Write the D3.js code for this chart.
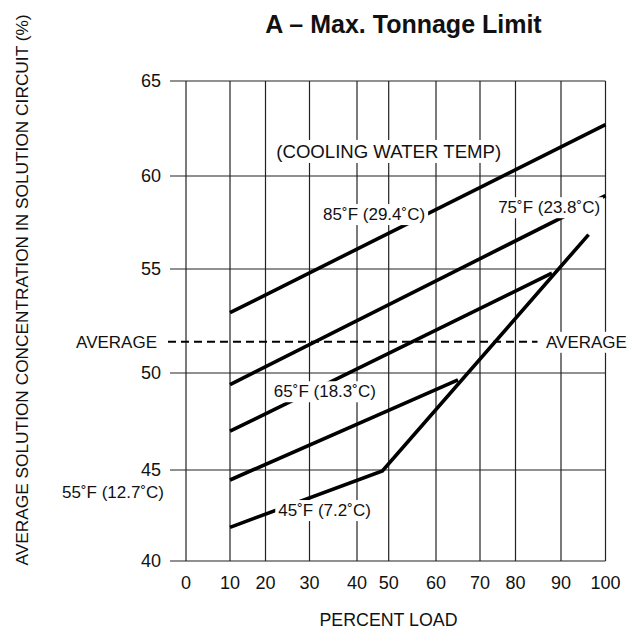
<!DOCTYPE html>
<html>
<head>
<meta charset="utf-8">
<script src="https://cdn.jsdelivr.net/npm/d3@7"></script>
<style>
  body { margin: 0; background: #fff; }
  svg { font-family: 'Liberation Sans', Arial, sans-serif; fill: #111; }
  .grid line { stroke: #222; stroke-width: 1.2; }
  .curve { fill: none; stroke: #000; stroke-width: 3.6; stroke-linejoin: miter; }
  .avg { stroke: #000; stroke-width: 2; stroke-dasharray: 8 5; }
  .tick-label { font-size: 18px; }
  .note { font-size: 17px; }
  .big-note { font-size: 18.6px; }
</style>
</head>
<body>
<svg id="chart"></svg>
<script>
const WIDTH = 629;
const HEIGHT = 632;

// percent load ticks (the printed axis is unevenly spaced)
const loadTicks = [0, 10, 20, 30, 40, 50, 60, 70, 80, 90, 100];
const concTicks = [40, 45, 50, 55, 60, 65];

// cooling water temp curves: [percent load, concentration %]
const water85 = [[10, 52.9], [100, 62.7]];
const water75 = [[10, 49.4], [100, 58.95]];
const water65 = [[10, 47.0], [88, 54.8]];
const water55 = [[10, 44.45], [65, 49.65]];
const water45 = [[10, 41.85], [48, 44.95], [96.2, 56.85]];
const averageConc = 51.5;

const curveLabels = ['85˚F (29.4˚C)', '75˚F (23.8˚C)', '65˚F (18.3˚C)', '55˚F (12.7˚C)', '45˚F (7.2˚C)'];

// pixel stops of the printed grid
const xStops = [186, 230, 265.5, 309.5, 357, 388.7, 436, 480, 515.5, 561, 605.5];
const yStops = [561, 470, 373, 269, 176, 81];

const xScale = d3.scaleLinear().domain(loadTicks).range(xStops);
const yScale = d3.scaleLinear().domain(concTicks).range(yStops);

const svg = d3.select('#chart')
  .attr('width', WIDTH)
  .attr('height', HEIGHT);

// grid
const grid = svg.append('g').attr('class', 'grid');
grid.selectAll('.v')
  .data(loadTicks)
  .enter()
  .append('line')
  .attr('x1', d => xScale(d))
  .attr('x2', d => xScale(d))
  .attr('y1', yScale(65))
  .attr('y2', yScale(40));
grid.selectAll('.h')
  .data(concTicks)
  .enter()
  .append('line')
  .attr('x1', xScale(0) - 16)
  .attr('x2', xScale(100))
  .attr('y1', d => yScale(d))
  .attr('y2', d => yScale(d));

// tick labels
svg.selectAll('.xl')
  .data(loadTicks)
  .enter()
  .append('text')
  .attr('class', 'tick-label')
  .attr('text-anchor', 'middle')
  .attr('x', d => xScale(d))
  .attr('y', yScale(40) + 28)
  .text(d => d);
svg.selectAll('.yl')
  .data(concTicks)
  .enter()
  .append('text')
  .attr('class', 'tick-label')
  .attr('text-anchor', 'end')
  .attr('x', xScale(0) - 25)
  .attr('y', d => yScale(d))
  .attr('dy', '0.35em')
  .text(d => d);

// average line
svg.append('line')
  .attr('class', 'avg')
  .attr('x1', xScale(0) - 18)
  .attr('x2', xScale(100) - 68)
  .attr('y1', yScale(averageConc))
  .attr('y2', yScale(averageConc));

// curves
const line = d3.line()
  .x(d => xScale(d[0]))
  .y(d => yScale(d[1]));

svg.selectAll('.curve')
  .data([water85, water75, water65, water55, water45])
  .enter()
  .append('path')
  .attr('class', 'curve')
  .attr('d', line);

// labels with white boxes
const addNote = (txt, x, y, anchor, cls) => {
  const g = svg.append('g');
  const t = g.append('text')
    .attr('class', cls || 'note')
    .attr('x', x)
    .attr('y', y)
    .attr('text-anchor', anchor)
    .text(txt);
  const b = t.node().getBBox();
  g.insert('rect', 'text')
    .attr('x', b.x - 3)
    .attr('y', b.y - 1)
    .attr('width', b.width + 6)
    .attr('height', b.height + 2)
    .attr('fill', '#fff');
};

addNote('(COOLING WATER TEMP)', xScale(50), yScale(60.95), 'middle', 'big-note');
addNote(curveLabels[0], xScale(45.4), yScale(57.63), 'middle');
addNote(curveLabels[1], xScale(98.8), yScale(58.0), 'end');
addNote(curveLabels[2], xScale(21.9), yScale(48.75), 'start');
addNote(curveLabels[3], xScale(0) - 22, yScale(43.45), 'end');
addNote(curveLabels[4], xScale(22.9), yScale(42.47), 'start');
addNote('AVERAGE', xScale(0) - 29, yScale(averageConc) + 6, 'end');
addNote('AVERAGE', xScale(100) - 59.5, yScale(averageConc) + 6, 'start');

// titles
svg.append('text')
  .attr('x', 403.5)
  .attr('y', 33)
  .attr('text-anchor', 'middle')
  .attr('font-weight', 'bold')
  .attr('font-size', 25)
  .text('A – Max. Tonnage Limit');

svg.append('text')
  .attr('x', 388.5)
  .attr('y', 626)
  .attr('text-anchor', 'middle')
  .attr('font-size', 17.8)
  .text('PERCENT LOAD');

svg.append('text')
  .attr('transform', 'translate(28, 290) rotate(-90)')
  .attr('text-anchor', 'middle')
  .attr('font-size', 17.3)
  .text('AVERAGE SOLUTION CONCENTRATION IN SOLUTION CIRCUIT (%)');
</script>
</body>
</html>
